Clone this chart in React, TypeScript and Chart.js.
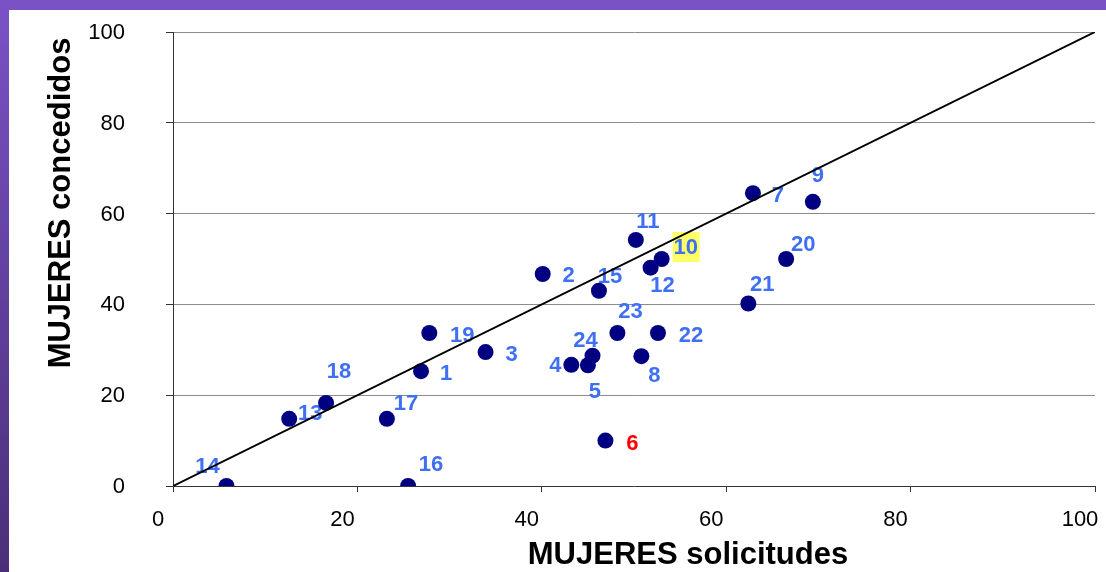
import React, { useEffect, useRef } from "react";
import { Chart, registerables } from "chart.js";

Chart.register(...registerables);

// Data
const pointIds = ["1","2","3","4","5","6","7","8","9","10","11","12","13","14","15","16","17","18","19","20","21","22","23","24"];
const solicitudes = [26.9, 40.1, 33.9, 43.2, 45.0, 46.9, 62.9, 50.8, 69.4, 53.0, 50.2, 51.8, 12.6, 5.8, 46.2, 25.5, 23.2, 16.6, 27.8, 66.5, 62.4, 52.6, 48.2, 45.5];
const concedidos = [25.3, 46.7, 29.5, 26.7, 26.6, 10.0, 64.5, 28.6, 62.6, 50.0, 54.2, 48.1, 14.8, 0, 43.0, 0, 14.8, 18.3, 33.7, 50.0, 40.2, 33.7, 33.7, 28.7];
const diagonalX = [0, 100];
const diagonalY = [0, 100];
const xTickValues = [0, 20, 40, 60, 80, 100];
const highlightIds = ["10"];
const redIds = ["6"];

// label placement (pixels, relative to point)
const labelOffsets: [number, number][] = [
  [25, 2], [26, 1], [26, 2], [-16, 0], [7, 26], [27, 2], [25, 2], [13, 19],
  [5, -27], [24, -12], [12, -19], [12, 17], [21, -6], [-19, -20], [11, -15], [23, -22],
  [19, -16], [13, -32], [33, 2], [17, -15], [14, -20], [33, 2], [13, -22], [-7, -16],
];

const FONT = '"Liberation Sans", Arial, Helvetica, sans-serif';

const overlay = {
  id: "overlay",
  beforeDatasetsDraw(chart: any) {
    const ctx = chart.ctx;
    const meta = chart.getDatasetMeta(1);
    ctx.save();
    ctx.font = `bold 22px ${FONT}`;
    ctx.textAlign = "center";
    ctx.textBaseline = "middle";
    pointIds.forEach((id, i) => {
      const el = meta.data[i];
      if (!el) return;
      const [dx, dy] = labelOffsets[i];
      const x = el.x + dx;
      const y = el.y + dy;
      if (highlightIds.includes(id)) {
        ctx.fillStyle = "#ffff66";
        ctx.fillRect(x - 13, y - 15, 27, 30);
      }
      ctx.fillStyle = redIds.includes(id) ? "#ff0000" : "#3f6ff2";
      ctx.fillText(id, x, y + 1);
    });
    ctx.restore();
  },
  afterDraw(chart: any) {
    const ctx = chart.ctx;
    const a = chart.chartArea;
    ctx.save();
    ctx.fillStyle = "#000000";
    ctx.font = `bold 31px ${FONT}`;
    ctx.textAlign = "center";
    ctx.textBaseline = "middle";
    ctx.fillText("MUJERES solicitudes", a.left + 515, a.bottom + 69);
    ctx.translate(61, a.top + 171);
    ctx.rotate(-Math.PI / 2);
    ctx.fillText("MUJERES concedidos", 0, 0);
    ctx.restore();
  },
};

export default function App() {
  const ref = useRef<HTMLCanvasElement | null>(null);

  useEffect(() => {
    if (!ref.current) return;
    const chart = new Chart(ref.current, {
      type: "scatter",
      data: {
        datasets: [
          {
            label: "diagonal",
            data: diagonalX.map((x, i) => ({ x, y: diagonalY[i] })),
            showLine: true,
            borderColor: "#000000",
            borderWidth: 2,
            pointRadius: 0,
            pointHoverRadius: 0,
          },
          {
            label: "MUJERES",
            data: solicitudes.map((x, i) => ({ x, y: concedidos[i] })),
            backgroundColor: "#000080",
            borderColor: "#000080",
            borderWidth: 0,
            pointRadius: 8,
            pointHoverRadius: 8,
          },
        ],
      },
      options: {
        animation: false,
        responsive: false,
        layout: { padding: { top: 32, right: 11, bottom: 0, left: 0 } },
        plugins: {
          legend: { display: false },
          tooltip: { enabled: false },
          title: { display: false },
        },
        scales: {
          x: {
            type: "linear",
            min: 0,
            max: 100,
            afterBuildTicks: (s: any) => {
              s.ticks = xTickValues.map((v) => ({ value: v }));
            },
            afterFit: (s: any) => {
              s.height = 86;
              s.paddingLeft = 0;
              s.paddingRight = 0;
            },
            ticks: {
              color: "#000000",
              font: { family: FONT, size: 22 },
              padding: 15,
              labelOffset: -15,
              maxRotation: 0,
              autoSkip: false,
            },
            grid: {
              drawOnChartArea: false,
              drawTicks: true,
              tickLength: 6,
              tickColor: "#333333",
            },
            border: { color: "#333333", width: 1 },
          },
          y: {
            type: "linear",
            min: 0,
            max: 100,
            afterBuildTicks: (s: any) => {
              s.ticks = xTickValues.map((v) => ({ value: v }));
            },
            afterFit: (s: any) => {
              s.width = 173;
              s.paddingTop = 0;
              s.paddingBottom = 0;
            },
            ticks: {
              color: "#000000",
              font: { family: FONT, size: 22 },
              padding: 41,
              labelOffset: 1,
              autoSkip: false,
            },
            grid: {
              color: (c: any) => (c.tick && c.tick.value === 0 ? "rgba(0,0,0,0)" : "#8c8c8c"),
              drawTicks: true,
              tickLength: 7,
              tickColor: "#333333",
            },
            border: { color: "#333333", width: 1 },
          },
        },
      },
      plugins: [overlay],
    } as any);
    return () => chart.destroy();
  }, []);

  return (
    <div style={{ position: "absolute", left: 0, top: 0, width: 1106, height: 572, background: "#ffffff", overflow: "hidden" }}>
      <div style={{ position: "absolute", left: 0, top: 0, width: 1106, height: 10, background: "#7a52c4" }} />
      <div style={{ position: "absolute", left: 0, top: 0, width: 9, height: 572, background: "linear-gradient(#7a52c6, #4a2f78)" }} />
      <canvas ref={ref} width={1106} height={572} style={{ position: "absolute", left: 0, top: 0, width: 1106, height: 572 }} />
    </div>
  );
}
